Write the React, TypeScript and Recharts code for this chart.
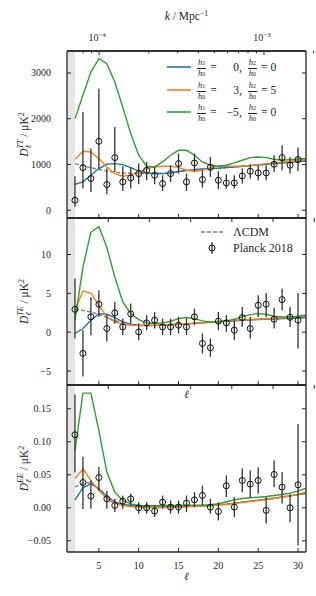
import React from "react";
import {
  ComposedChart,
  Line,
  Scatter,
  ErrorBar,
  XAxis,
  YAxis,
  ReferenceArea,
  ReferenceLine,
  Label,
} from "recharts";

// multipoles
const ell = [2, 3, 4, 5, 6, 7, 8, 9, 10, 11, 12, 13, 14, 15, 16, 17, 18, 19, 20, 21, 22, 23, 24, 25, 26, 27, 28, 29, 30, 31];
const obsEll = [2, 3, 4, 5, 6, 7, 8, 9, 10, 11, 12, 13, 14, 15, 16, 17, 18, 19, 20, 21, 22, 23, 24, 25, 26, 27, 28, 29, 30];

// TT
const ttLcdm = [1019, 975, 930, 890, 855, 830, 812, 808, 808, 805, 801, 801, 815, 845, 868, 888, 903, 910, 917, 932, 946, 961, 975, 990, 1004, 1019, 1034, 1048, 1063, 1077];
const ttBlue = [568, 619, 764, 910, 1004, 1019, 997, 932, 859, 815, 801, 801, 815, 845, 868, 888, 903, 910, 917, 932, 946, 961, 975, 990, 1004, 1019, 1034, 1048, 1063, 1077];
const ttOrange = [1113, 1288, 1273, 1128, 946, 801, 742, 764, 837, 910, 946, 961, 961, 932, 873, 852, 873, 932, 961, 961, 961, 961, 975, 997, 1019, 1041, 1055, 1070, 1092, 1106];
const ttGreen = [2002, 2511, 3020, 3312, 3203, 2802, 2256, 1674, 1201, 961, 946, 1055, 1201, 1310, 1310, 1201, 1055, 983, 961, 983, 1034, 1092, 1150, 1164, 1150, 1113, 1092, 1106, 1121, 1130];
const ttObs = [218, 932, 692, 1507, 561, 1150, 619, 706, 800, 873, 764, 582, 800, 1019, 619, 1033, 670, 939, 655, 597, 597, 750, 852, 815, 815, 1004, 1150, 983, 1107];
const ttLo = [146, 459, 292, 597, 212, 314, 197, 233, 232, 218, 196, 160, 181, 218, 197, 190, 175, 212, 196, 130, 124, 168, 160, 160, 160, 167, 277, 182, 248];
const ttHi = [524, 1214, 655, 1150, 349, 669, 342, 240, 219, 182, 182, 182, 183, 219, 182, 205, 203, 225, 197, 190, 167, 160, 152, 168, 168, 197, 269, 181, 262];

// TE
const teLcdm = [2.9, 2.8, 2.6, 2.3, 1.9, 1.5, 1.2, 1.0, 0.9, 0.85, 0.87, 0.9, 0.95, 1.0, 1.07, 1.14, 1.21, 1.28, 1.35, 1.42, 1.48, 1.54, 1.59, 1.64, 1.68, 1.72, 1.76, 1.8, 1.84, 1.88];
const teBlue = [-0.17, 0.47, 1.54, 2.39, 2.31, 1.88, 1.32, 1.03, 0.9, 0.85, 0.87, 0.9, 0.95, 1.0, 1.07, 1.14, 1.21, 1.28, 1.35, 1.42, 1.48, 1.54, 1.59, 1.64, 1.68, 1.72, 1.76, 1.8, 1.84, 1.88];
const teOrange = [2.82, 5.3, 5.04, 3.46, 1.97, 1.32, 1.03, 0.9, 0.85, 0.85, 0.9, 0.94, 0.98, 1.03, 1.1, 1.17, 1.24, 1.31, 1.38, 1.45, 1.52, 1.58, 1.63, 1.68, 1.73, 1.78, 1.85, 1.93, 2.0, 2.09];
const teGreen = [1.54, 8.38, 12.86, 13.59, 10.94, 7.09, 3.89, 2.39, 1.62, 1.2, 1.11, 1.2, 1.41, 1.75, 1.88, 1.75, 1.45, 1.28, 1.32, 1.45, 1.67, 1.97, 2.26, 2.39, 2.31, 2.05, 1.97, 1.97, 2.05, 2.18];
const teObs = [2.95, -2.73, 1.97, 3.59, 0.47, 2.48, 0.68, 2.35, 0.04, 1.2, 1.54, 0.68, 0.68, 0.9, 0.68, 1.97, -1.45, -2.0, 1.41, 1.2, 0.26, 1.88, 0.47, 3.46, 3.59, 1.67, 4.19, 1.92, 1.54];
const teLo = [3.75, 2.97, 2.37, 1.59, 1.67, 1.38, 1.06, 1.24, 1.07, 0.94, 1.07, 1.06, 1.06, 1.07, 1.06, 1.07, 1.28, 1.16, 1.15, 1.16, 1.29, 1.2, 1.28, 1.49, 1.62, 1.2, 1.37, 1.24, 3.63];
const teHi = [3.95, 2.99, 2.53, 1.81, 1.73, 1.42, 1.07, 1.33, 1.07, 0.98, 1.07, 1.07, 1.07, 1.07, 1.07, 1.06, 1.28, 1.19, 1.2, 0.98, 1.28, 1.37, 1.5, 1.28, 1.45, 1.49, 1.41, 1.33, 3.5];

// EE
const eeLcdm = [0.0313, 0.0375, 0.038, 0.029, 0.0171, 0.0085, 0.005, 0.0035, 0.002, 0.0012, 0.001, 0.001, 0.0012, 0.0015, 0.002, 0.0025, 0.003, 0.0035, 0.0045, 0.0055, 0.007, 0.0085, 0.01, 0.0115, 0.013, 0.0145, 0.0163, 0.0181, 0.0201, 0.022];
const eeBlue = [0.012, 0.0303, 0.0363, 0.0288, 0.0171, 0.0085, 0.005, 0.0035, 0.002, 0.0012, 0.001, 0.001, 0.0012, 0.0015, 0.002, 0.0025, 0.003, 0.0035, 0.0045, 0.0055, 0.007, 0.0085, 0.01, 0.0115, 0.013, 0.0145, 0.0163, 0.0181, 0.0201, 0.022];
const eeOrange = [0.0439, 0.059, 0.0414, 0.0262, 0.0136, 0.007, 0.0035, 0.002, 0.001, 0.0005, 0.0003, 0.0003, 0.0005, 0.001, 0.0015, 0.002, 0.0025, 0.003, 0.004, 0.005, 0.0065, 0.008, 0.0095, 0.011, 0.0125, 0.014, 0.016, 0.018, 0.0205, 0.0237];
const eeGreen = [0.0868, 0.1737, 0.1737, 0.117, 0.054, 0.0237, 0.011, 0.006, 0.0035, 0.003, 0.003, 0.0035, 0.0035, 0.0035, 0.004, 0.004, 0.004, 0.0045, 0.006, 0.0091, 0.012, 0.0141, 0.0151, 0.016, 0.0171, 0.0186, 0.0202, 0.0222, 0.0252, 0.0298];
const eeObs = [0.1106, 0.0383, 0.0176, 0.0459, 0.0136, 0.0035, 0.01, 0.0136, 0.0, 0.0, -0.005, 0.0085, 0.001, 0.001, 0.007, 0.012, 0.0186, 0.001, -0.0056, 0.0333, 0.001, 0.0414, 0.0358, 0.0414, -0.004, 0.0505, 0.0313, 0.0, 0.0348];
const eeLo = [0.057, 0.04, 0.019, 0.02, 0.015, 0.01, 0.0115, 0.01, 0.009, 0.009, 0.009, 0.01, 0.01, 0.01, 0.0136, 0.011, 0.015, 0.01, 0.0136, 0.017, 0.015, 0.018, 0.02, 0.02, 0.02, 0.019, 0.025, 0.022, 0.092];
const eeHi = [0.061, 0.039, 0.024, 0.016, 0.012, 0.01, 0.0086, 0.0076, 0.0085, 0.0085, 0.0085, 0.01, 0.01, 0.01, 0.0116, 0.0117, 0.015, 0.0126, 0.014, 0.016, 0.015, 0.018, 0.021, 0.02, 0.02, 0.021, 0.023, 0.021, 0.092];

// ticks
const ellTicks = [5, 10, 15, 20, 25, 30];
const ttTicks = [0, 1000, 2000, 3000];
const teTicks = [-5, 0, 5, 10];
const eeTicks = [-0.05, 0, 0.05, 0.1, 0.15];
const kTicks = [8e-5, 9e-5, 1e-4, 2e-4, 3e-4, 4e-4, 5e-4, 6e-4, 7e-4, 8e-4, 9e-4, 1e-3, 2e-3];

// secondary axis, k is log-linear in ell
const kToEll = (k: number) => 3.9 + 20 * (Math.log10(k) + 4);

const BLUE = "#1f77b4";
const ORANGE = "#ff7f0e";
const GREEN = "#2ca02c";
const GREY = "#808080";
const INK = "#262626";
const FONT = '"Liberation Serif", "DejaVu Serif", serif';
const MID = 186.5;
const TICK_FS = 10;

const rows = (a: number[], b: number[], c: number[], d: number[]) =>
  ell.map((l, i) => ({ l, lcdm: a[i], blue: b[i], orange: c[i], green: d[i] }));
const points = (v: number[], lo: number[], hi: number[]) =>
  obsEll.map((l, i) => ({ l, v: v[i], err: [lo[i], hi[i]] }));

const ttRows = rows(ttLcdm, ttBlue, ttOrange, ttGreen);
const teRows = rows(teLcdm, teBlue, teOrange, teGreen);
const eeRows = rows(eeLcdm, eeBlue, eeOrange, eeGreen);
const ttPts = points(ttObs, ttLo, ttHi);
const tePts = points(teObs, teLo, teHi);
const eePts = points(eeObs, eeLo, eeHi);

const minus = (s: string) => s.replace("-", "\u2212");

const bottomTick = (labels: boolean) => (props: any) => {
  const { x, y, payload } = props;
  return (
    <g>
      <line x1={x} x2={x} y1={y} y2={y - 4} stroke={INK} strokeWidth={1} />
      {labels && (
        <text x={x} y={y + 17} textAnchor="middle" fontSize={TICK_FS} fontFamily={FONT} fill={INK}>
          {payload.value}
        </text>
      )}
    </g>
  );
};

const topTick = (props: any) => {
  const { x, y } = props;
  return <line x1={x} x2={x} y1={y} y2={y + 4} stroke={INK} strokeWidth={1} />;
};

const kTick = (props: any) => {
  const { x, y, payload } = props;
  const k = kTicks.find((t) => Math.abs(kToEll(t) - payload.value) < 1e-6) ?? 0;
  const e = Math.round(Math.log10(k));
  const major = Math.abs(Math.log10(k) - e) < 1e-6;
  return (
    <g>
      <line x1={x} x2={x} y1={y} y2={y + (major ? 4 : 2.3)} stroke={INK} strokeWidth={1} />
      {major && (
        <text x={x - 2} y={y - 10} textAnchor="middle" fontSize={TICK_FS} fontFamily={FONT} fill={INK}>
          10
          <tspan fontSize={7} dy={-4.5}>
            {minus(String(e))}
          </tspan>
        </text>
      )}
    </g>
  );
};

const leftTick = (fmt: (v: number) => string) => (props: any) => {
  const { x, y, payload } = props;
  return (
    <g>
      <line x1={x} x2={x + 4} y1={y} y2={y} stroke={INK} strokeWidth={1} />
      <text x={x - 16} y={y + 3.5} textAnchor="end" fontSize={TICK_FS} fontFamily={FONT} fill={INK}>
        {fmt(payload.value)}
      </text>
    </g>
  );
};

const rightTick = (props: any) => {
  const { x, y } = props;
  return <line x1={x} x2={x - 4} y1={y} y2={y} stroke={INK} strokeWidth={1} />;
};

const yTitle = (sup: string, cy: number) => () => (
  <text
    transform={`translate(28, ${cy}) rotate(-90)`}
    textAnchor="middle"
    fontSize={11.5}
    fontFamily={FONT}
    fill={INK}
  >
    <tspan fontStyle="italic">D</tspan>
    <tspan fontSize={8} dy={2.5} fontStyle="italic">ℓ</tspan>
    <tspan fontSize={8} dx={-3.5} dy={-8} fontStyle="italic">{sup}</tspan>
    <tspan dy={5.5}>{" / \u03bcK"}</tspan>
    <tspan fontSize={8} dy={-4.5}>2</tspan>
  </text>
);

const ring = (props: any) => (
  <circle cx={props.cx} cy={props.cy} r={3} fill="none" stroke="#111" strokeWidth={1} />
);

interface PanelProps {
  data: any[];
  pts: any[];
  domain: [number, number];
  ticks: number[];
  fmt: (v: number) => string;
  sup: string;
  height: number;
  mTop: number;
  mBottom: number;
  top: "k" | "ell" | "plain";
  bottomLabels: boolean;
}

const Panel = (p: PanelProps) => {
  const topH = p.top === "k" ? 51 : 1;
  const bottomH = p.bottomLabels ? 44 : 1;
  const plotTop = p.mTop + topH;
  return (
    <ComposedChart
      width={316}
      height={p.height}
      data={p.data}
      margin={{ top: p.mTop, right: 9, bottom: p.mBottom, left: 0 }}
    >
      <ReferenceArea x1={1} x2={2} fill="#e5e5e5" fillOpacity={1} stroke="none" ifOverflow="hidden" />
      <XAxis
        dataKey="l"
        type="number"
        domain={[1, 31]}
        allowDataOverflow
        ticks={ellTicks}
        interval={0}
        tick={bottomTick(p.bottomLabels)}
        tickLine={false}
        tickSize={0}
        tickMargin={0}
        height={bottomH}
        stroke={INK}
        axisLine={{ stroke: INK, strokeWidth: 1.3 }}
      >
        {p.bottomLabels && (
          <Label
            content={() => (
              <g>
                <text x={MID} y={p.height - 16} textAnchor="middle" fontSize={11} fontFamily={FONT} fontStyle="italic" fill={INK}>
                  ℓ
                </text>
                {p.top === "ell" && (
                  <text x={MID} y={plotTop + 13} textAnchor="middle" fontSize={11} fontFamily={FONT} fontStyle="italic" fill={INK}>
                    ℓ
                  </text>
                )}
              </g>
            )}
          />
        )}
      </XAxis>
      <XAxis
        xAxisId="top"
        orientation="top"
        type="number"
        domain={[1, 31]}
        allowDataOverflow
        ticks={p.top === "k" ? kTicks.map(kToEll) : ellTicks}
        interval={0}
        tick={p.top === "k" ? kTick : topTick}
        tickLine={false}
        tickSize={0}
        tickMargin={0}
        height={topH}
        stroke={INK}
        axisLine={{ stroke: INK, strokeWidth: 1.3 }}
      >
        {p.top === "k" && (
          <Label
            content={() => (
              <text x={MID} y={20} textAnchor="middle" fontSize={11.5} fontFamily={FONT} fill={INK}>
                <tspan fontStyle="italic">k</tspan>
                {" / Mpc"}
                <tspan fontSize={8} dy={-4.5}>{"\u22121"}</tspan>
              </text>
            )}
          />
        )}
      </XAxis>
      <YAxis
        type="number"
        domain={p.domain}
        allowDataOverflow
        ticks={p.ticks}
        interval={0}
        tick={leftTick(p.fmt)}
        tickLine={false}
        tickSize={0}
        tickMargin={0}
        width={67}
        stroke={INK}
        axisLine={{ stroke: INK, strokeWidth: 1.3 }}
      >
        <Label content={yTitle(p.sup, plotTop + 83.5)} />
      </YAxis>
      <YAxis
        yAxisId="right"
        orientation="right"
        type="number"
        domain={p.domain}
        allowDataOverflow
        ticks={p.ticks}
        interval={0}
        tick={rightTick}
        tickLine={false}
        tickSize={0}
        tickMargin={0}
        width={1}
        stroke={INK}
        axisLine={{ stroke: INK, strokeWidth: 1.3 }}
      />
      <ReferenceLine y={p.domain[1]} stroke={INK} strokeWidth={1.3} ifOverflow="visible" />
      <Line dataKey="lcdm" stroke={GREY} strokeWidth={1.4} strokeDasharray="4 2" dot={false} isAnimationActive={false} />
      <Line dataKey="blue" stroke={BLUE} strokeWidth={1.4} dot={false} isAnimationActive={false} />
      <Line dataKey="orange" stroke={ORANGE} strokeWidth={1.4} dot={false} isAnimationActive={false} />
      <Line dataKey="green" stroke={GREEN} strokeWidth={1.4} dot={false} isAnimationActive={false} />
      <Scatter data={p.pts} dataKey="v" shape={ring} isAnimationActive={false}>
        <ErrorBar dataKey="err" direction="y" width={0} stroke="#333" strokeWidth={1.3} isAnimationActive={false} />
      </Scatter>
    </ComposedChart>
  );
};

const Frac = ({ n }: { n: string }) => (
  <span
    style={{
      display: "inline-flex",
      flexDirection: "column",
      alignItems: "center",
      fontSize: 8.5,
      lineHeight: "9px",
      fontStyle: "italic",
    }}
  >
    <span style={{ borderBottom: `0.8px solid ${INK}`, padding: "0 1px" }}>
      h<span style={{ fontSize: 6, fontStyle: "normal" }}>{n}</span>
    </span>
    <span>
      h<span style={{ fontSize: 6, fontStyle: "normal" }}>0</span>
    </span>
  </span>
);

const hLegend = [
  { color: BLUE, a: "0", b: "0" },
  { color: ORANGE, a: "3", b: "5" },
  { color: GREEN, a: "\u22125", b: "0" },
];

export default function App() {
  return (
    <div style={{ position: "relative", width: 316, height: 596, background: "#fff", fontFamily: FONT, color: INK }}>
      <style>{"body{margin:0}"}</style>
      <div style={{ position: "absolute", top: 0, left: 0 }}>
        <Panel data={ttRows} pts={ttPts} domain={[-170, 3480]} ticks={ttTicks} fmt={(v) => String(v)} sup="TT"
          height={222} mTop={0} mBottom={3} top="k" bottomLabels={false} />
      </div>
      <div style={{ position: "absolute", top: 214, left: 0 }}>
        <Panel data={teRows} pts={tePts} domain={[-6.8, 14.7]} ticks={teTicks} fmt={(v) => minus(String(v))} sup="TE"
          height={175} mTop={3} mBottom={3} top="plain" bottomLabels={false} />
      </div>
      <div style={{ position: "absolute", top: 381, left: 0 }}>
        <Panel data={eeRows} pts={eePts} domain={[-0.067, 0.186]} ticks={eeTicks} fmt={(v) => minus(v.toFixed(2))} sup="EE"
          height={215} mTop={3} mBottom={0} top="ell" bottomLabels={true} />
      </div>

      <div style={{ position: "absolute", left: 166, top: 56, fontSize: 11.5 }}>
        {hLegend.map((r) => (
          <div key={r.color} style={{ display: "flex", alignItems: "center", height: 22.5 }}>
            <svg width={26} height={6}>
              <line x1={1} x2={25} y1={3} y2={3} stroke={r.color} strokeWidth={1.6} />
            </svg>
            <span style={{ marginLeft: 5 }}><Frac n="1" /></span>
            <span style={{ marginLeft: 4 }}>=</span>
            <span style={{ display: "inline-block", width: 25, textAlign: "right" }}>{r.a},</span>
            <span style={{ marginLeft: 6 }}><Frac n="2" /></span>
            <span style={{ marginLeft: 4 }}>= {r.b}</span>
          </div>
        ))}
      </div>

      <div style={{ position: "absolute", left: 200, top: 224, fontSize: 12 }}>
        <div style={{ display: "flex", alignItems: "center", height: 16 }}>
          <svg width={24} height={6}>
            <line x1={1} x2={23} y1={3} y2={3} stroke={GREY} strokeWidth={1.4} strokeDasharray="4 2" />
          </svg>
          <span style={{ marginLeft: 9 }}>ΛCDM</span>
        </div>
        <div style={{ display: "flex", alignItems: "center", height: 16 }}>
          <svg width={24} height={16}>
            <line x1={12} x2={12} y1={2} y2={14} stroke="#333" strokeWidth={1.3} />
            <circle cx={12} cy={8} r={3} fill="none" stroke="#111" strokeWidth={1} />
          </svg>
          <span style={{ marginLeft: 9 }}>Planck 2018</span>
        </div>
      </div>
    </div>
  );
}
